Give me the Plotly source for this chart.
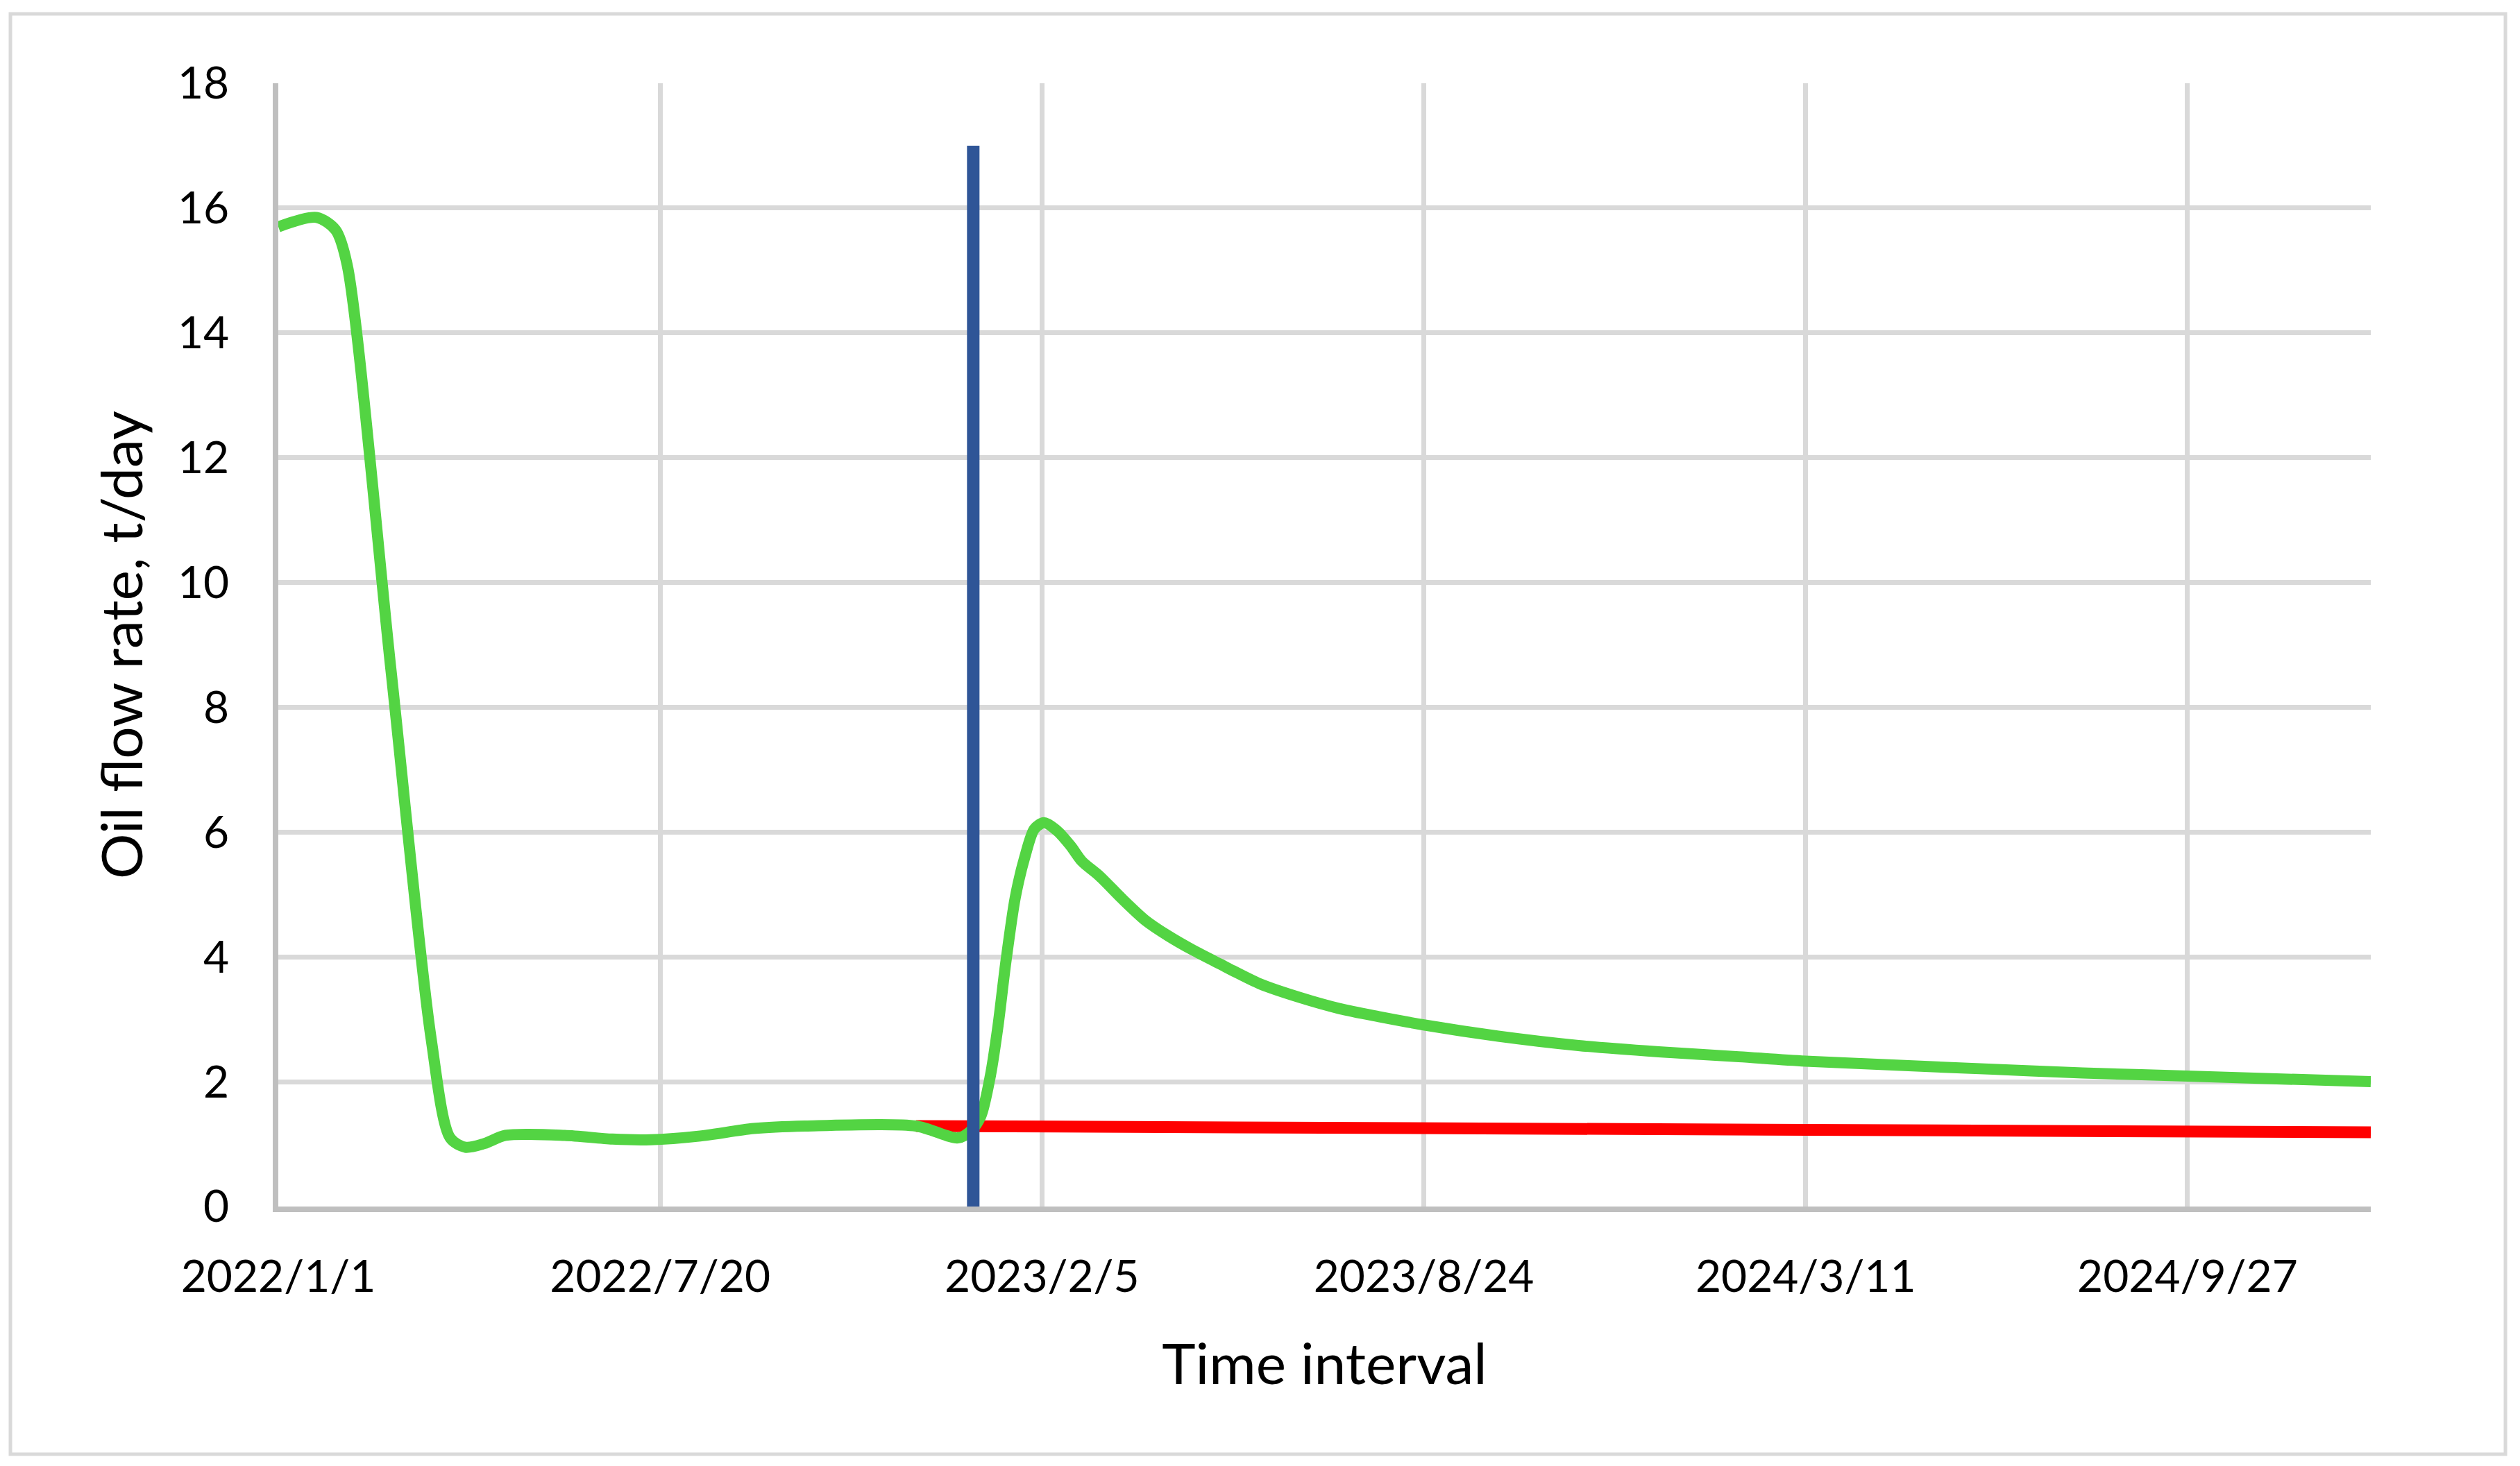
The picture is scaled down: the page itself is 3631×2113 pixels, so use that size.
import plotly.graph_objects as go

# Green series: oil flow rate with treatment (t/day)
green_dates = [
    "2022-01-01", "2022-01-21", "2022-01-31", "2022-02-06", "2022-03-01", "2022-03-22",
    "2022-04-01", "2022-04-09", "2022-04-19", "2022-04-30", "2022-05-31", "2022-06-25",
    "2022-07-15", "2022-08-10", "2022-09-07", "2022-10-04", "2022-12-01", "2022-12-23",
    "2022-12-30", "2023-01-04", "2023-01-09", "2023-01-13", "2023-01-17", "2023-01-22",
    "2023-01-27", "2023-02-01", "2023-02-06", "2023-02-13", "2023-02-20", "2023-02-26",
    "2023-03-07", "2023-03-19", "2023-03-31", "2023-04-12", "2023-04-25", "2023-05-09",
    "2023-05-30", "2023-06-20", "2023-07-11", "2023-08-01", "2023-08-24", "2023-10-02",
    "2023-11-13", "2023-12-25", "2024-02-05", "2024-03-11", "2024-06-17", "2024-08-03",
    "2024-09-27", "2025-01-01",
]
green_values = [
    15.70, 15.85, 15.65, 15.10, 8.60, 2.70,
    1.10, 0.95, 1.01, 1.14, 1.14, 1.08,
    1.07, 1.13, 1.25, 1.29, 1.29, 1.10,
    1.22, 1.45, 2.10, 2.90, 3.90, 4.95,
    5.60, 6.05, 6.15, 6.02, 5.78, 5.53,
    5.30, 4.93, 4.59, 4.34, 4.11, 3.89,
    3.57, 3.35, 3.17, 3.04, 2.91, 2.73,
    2.58, 2.48, 2.40, 2.33, 2.20, 2.14,
    2.09, 2.00,
]

# Red series: base-case forecast
red_dates = ["2022-12-01", "2023-04-25", "2023-08-24", "2024-03-11", "2024-08-03", "2025-01-01"]
red_values = [1.29, 1.27, 1.26, 1.24, 1.20, 1.19]

# Blue marker line: treatment date
blue_dates = ["2022-12-31", "2022-12-31"]
blue_values = [0, 17]

x_range = ["2022-01-01", "2025-01-01"]
y_ticks = [0, 2, 4, 6, 8, 10, 12, 14, 16, 18]

FONT = "Lato, Noto Sans, sans-serif"

fig = go.Figure()
fig.add_trace(go.Scatter(x=red_dates, y=red_values, mode="lines",
                         line=dict(color="#FF0000", width=17), showlegend=False))
fig.add_trace(go.Scatter(x=green_dates, y=green_values, mode="lines",
                         line=dict(color="#53D443", width=16, shape="spline", smoothing=0.8),
                         showlegend=False))
fig.add_trace(go.Scatter(x=blue_dates, y=blue_values, mode="lines",
                         line=dict(color="#2F5597", width=18), showlegend=False))

# page body has an 8px default margin; compensate so the chart lands where the reference is
W, H = 3615, 2097
L, T = 393, 112
PW, PH = 3015, 1619
R, B = W - L - PW, H - T - PH

fig.add_shape(type="rect", xref="paper", yref="paper",
              x0=(7 - L) / PW, x1=(3602 - L) / PW,
              y0=(T + PH - 2088) / PH, y1=(T + PH - 12) / PH,
              line=dict(color="#D9D9D9", width=5), fillcolor="rgba(0,0,0,0)", layer="below")

fig.update_layout(
    width=W, height=H,
    margin=dict(l=L, r=R, t=T, b=B),
    paper_bgcolor="white", plot_bgcolor="white",
    font=dict(family=FONT, color="black"),
    xaxis=dict(
        type="date", range=x_range, tick0="2022-01-01", dtick=200 * 86400000,
        tickformat="%Y/%-m/%-d", showgrid=True, gridcolor="#D9D9D9", gridwidth=6.5,
        showline=True, linecolor="#BFBFBF", linewidth=8, ticks="",
        tickfont=dict(size=64, family=FONT), ticklabelstandoff=38,
        title=dict(text="Time interval", font=dict(size=82, family=FONT), standoff=66),
        zeroline=False,
    ),
    yaxis=dict(
        range=[0, 18], tickvals=y_ticks, showgrid=True, gridcolor="#D9D9D9", gridwidth=6.5,
        showline=True, linecolor="#BFBFBF", linewidth=8, ticks="",
        tickfont=dict(size=64, family=FONT), ticklabelstandoff=50,
        title=dict(text="Oil flow rate, t/day", font=dict(size=82, family=FONT), standoff=26),
        zeroline=False,
    ),
)

fig.write_html("out.html")
